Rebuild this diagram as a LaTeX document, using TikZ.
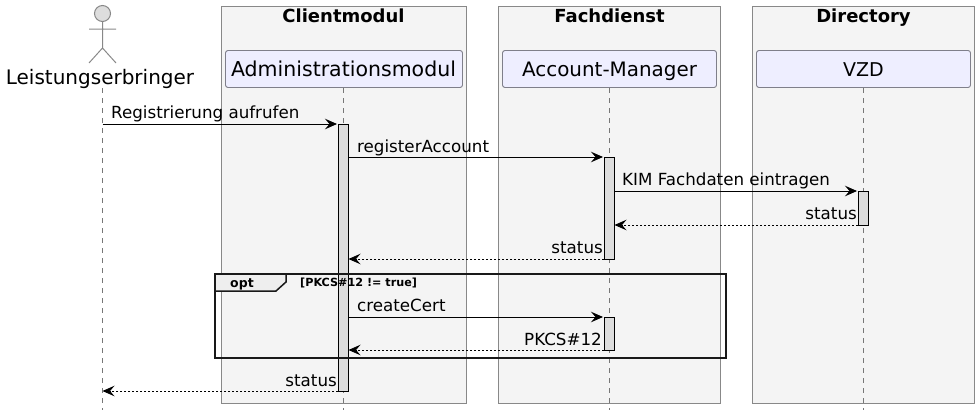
\documentclass[tikz,border=0pt]{standalone}
\usepackage{fontspec}
\setmainfont{DejaVu Sans}
\usetikzlibrary{arrows.meta,positioning}
\definecolor{groupfill}{HTML}{F4F4F4}
\definecolor{partfill}{HTML}{EEEEFF}
\definecolor{linegray}{HTML}{888888}
\definecolor{partline}{HTML}{7F7F8A}
\definecolor{lifegray}{HTML}{777777}
\definecolor{actfill}{HTML}{DDDDDD}
\definecolor{tabfill}{HTML}{EEEEEE}
\tikzset{
  x=1pt,y=-1pt,
  groupbox/.style={draw=linegray,fill=groupfill,line width=1.1pt},
  grouptitle/.style={font=\fontsize{18}{20}\selectfont\bfseries,anchor=base,inner sep=0pt,text=black},
  partbox/.style={draw=partline,fill=partfill,rounded corners=2.5pt,line width=.9pt},
  parttext/.style={anchor=base,inner sep=0pt},
  lifeline/.style={draw=lifegray,line width=.9pt,dash pattern=on 5pt off 5pt},
  actbox/.style={draw=black,fill=actfill,line width=.9pt},
  msg/.style={draw=black,line width=.9pt,-{Stealth[length=12pt,width=10.5pt,inset=4.5pt]}},
  ret/.style={msg,line width=.8pt,dash pattern=on 2pt off 2pt},
  msgtext/.style={font=\fontsize{16.7}{19}\selectfont,anchor=base,inner sep=0pt},
  actorline/.style={draw=linegray,line width=1pt},
  framebox/.style={draw=black!90,line width=2pt},
}
\begin{document}
\begin{tikzpicture}
\useasboundingbox (0,0) rectangle (979,415);
% group boxes
\draw[groupbox] (221.5,6.5) rectangle (466.5,403.5);
\draw[groupbox] (498.5,6.5) rectangle (720.5,403.5);
\draw[groupbox] (752.5,6.5) rectangle (974.5,403.5);
\node[grouptitle] (gc) at (343.5,22.5) {Clientmodul};
\node[grouptitle] (gf) at (609.5,22.5) {Fachdienst};
\node[grouptitle] (gd) at (863.5,22.5) {Directory};
% lifeline ends
\coordinate (l0t) at (102.5,88); \coordinate (l0b) at (102.5,410);
\coordinate (l1t) at (343,88);   \coordinate (l1b) at (343,410);
\coordinate (l2t) at (609,88);   \coordinate (l2b) at (609,410);
\coordinate (l3t) at (863,88);   \coordinate (l3b) at (863,410);
\draw[lifeline] (l0t) -- (l0b);
\draw[lifeline] (l1t) -- (l1b);
\draw[lifeline] (l2t) -- (l2b);
\draw[lifeline] (l3t) -- (l3b);
% participants
\draw[partbox] (225.5,50.5) rectangle (462.5,87.5);
\draw[partbox] (502.5,50.5) rectangle (716.5,87.5);
\draw[partbox] (756.5,50.5) rectangle (970.5,87.5);
\node[parttext,font=\fontsize{20.5}{24}\selectfont] (admin) at (343.5,76) {Administrationsmodul};
\node[parttext,font=\fontsize{19.9}{24}\selectfont] (am) at (609.5,76) {Account-Manager};
\node[parttext,font=\fontsize{19}{24}\selectfont] (vzd) at (863.5,76) {VZD};
% actor
\draw[actorline,fill=actfill] (102.5,13.5) circle (8);
\draw[actorline] (102.5,21.5) -- (102.5,48) (89,29) -- (116,29) (89,63) -- (102.5,48) -- (116,63);
\node[parttext,font=\fontsize{20}{24}\selectfont] (le) at (100,84) {Leistungserbringer};
% activations
\draw[actbox] (338,124) rectangle (348,391);
\draw[actbox] (604,157) rectangle (614,259);
\draw[actbox] (858,191) rectangle (868,225);
\draw[actbox] (604,317) rectangle (614,350);
% message end points
\coordinate (m1a) at (102.5,124); \coordinate (m1b) at (337,124);
\coordinate (m2a) at (348,157);   \coordinate (m2b) at (603,157);
\coordinate (m3a) at (614,191);   \coordinate (m3b) at (857,191);
\coordinate (m4a) at (858,225);   \coordinate (m4b) at (614.5,225);
\coordinate (m5a) at (604,259);   \coordinate (m5b) at (348.5,259);
\coordinate (m6a) at (348,317);   \coordinate (m6b) at (603,317);
\coordinate (m7a) at (604,350);   \coordinate (m7b) at (348.5,350);
\coordinate (m8a) at (338,391);   \coordinate (m8b) at (102.5,391);
\draw[msg] (m1a) -- (m1b);
\draw[msg] (m2a) -- (m2b);
\draw[msg] (m3a) -- (m3b);
\draw[ret] (m4a) -- (m4b);
\draw[ret] (m5a) -- (m5b);
\draw[msg] (m6a) -- (m6b);
\draw[ret] (m7a) -- (m7b);
\draw[ret] (m8a) -- (m8b);
% labels
\node[msgtext,anchor=base west] (t1) at (111,118) {Registrierung aufrufen};
\node[msgtext,anchor=base west] (t2) at (357,152) {registerAccount};
\node[msgtext,anchor=base west] (t3) at (622,185) {KIM Fachdaten eintragen};
\node[msgtext,anchor=base east] (t4) at (857,219) {status};
\node[msgtext,anchor=base east] (t5) at (603,253) {status};
\node[msgtext,anchor=base west] (t6) at (357,311) {createCert};
\node[msgtext,anchor=base east] (t7) at (602,345) {PKCS\#12};
\node[msgtext,anchor=base east] (t8) at (337,386) {status};
% opt frame
\draw[framebox] (215,274) rectangle (726,358);
\draw[framebox,line width=1.5pt,fill=tabfill] (215,274) -- (286,274) -- (286,282) -- (276,291) -- (215,291) -- cycle;
\node[font=\fontsize{12.5}{14}\selectfont\bfseries,anchor=base,inner sep=0pt] (opt) at (242,287) {opt};
\node[font=\fontsize{11.2}{13}\selectfont\bfseries,anchor=base west,inner sep=0pt] (cond) at (300,286) {[PKCS\#12 != true]};
\end{tikzpicture}
\end{document}
